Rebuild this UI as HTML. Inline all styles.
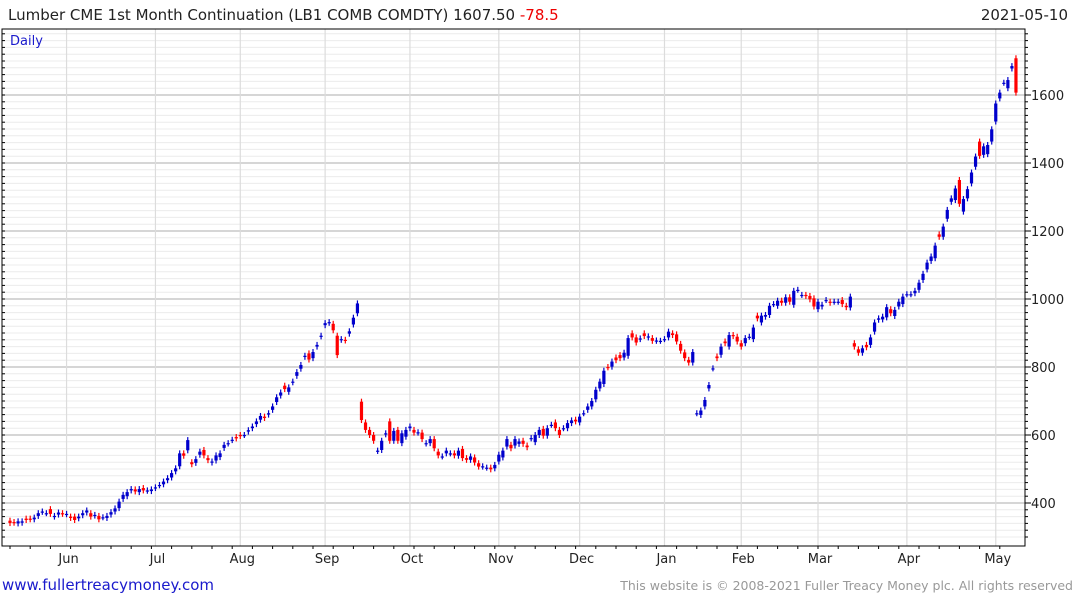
<!DOCTYPE html>
<html><head><meta charset="utf-8">
<style>
body{margin:0;background:#fff;width:1075px;height:600px;overflow:hidden;font-family:"Liberation Sans","DejaVu Sans",sans-serif;}
svg text{font-family:"DejaVu Sans","Liberation Sans",sans-serif;}
</style></head>
<body>
<svg id="chart" width="1075" height="600">
<text x="8" y="20" font-size="15" fill="#222">Lumber CME 1st Month Continuation (LB1 COMB COMDTY) 1607.50 <tspan fill="#e00">-78.5</tspan></text>
<text x="1068" y="20" font-size="15" fill="#222" text-anchor="end">2021-05-10</text>
<g id="grid"></g>
<g id="candles"></g>
<g id="axes"></g>
<text x="10" y="45" font-size="13" fill="#1a1acc">Daily</text>
<text x="2" y="590" font-size="15" fill="#1a1acc">www.fullertreacymoney.com</text>
<text x="1073" y="590" font-size="12.5" fill="#999" text-anchor="end">This website is © 2008-2021 Fuller Treacy Money plc. All rights reserved</text>
</svg>
<script>
const opens=[348,344,340,342,354,354,352,362,374,370,382,360,366,370,367,360,360,355,364,372,370,363,362,358,356,366,375,385,412,420,437,440,432,444,436,435,444,452,455,467,475,493,508,546,555,520,518,542,556,532,519,525,535,562,575,585,594,600,600,610,620,632,645,654,660,674,697,716,745,727,755,774,795,830,840,826,860,890,923,930,927,892,880,880,898,925,958,
698,637,615,600,553,556,602,640,583,615,576,595,620,615,607,607,575,576,588,551,537,546,546,546,539,559,532,527,534,517,507,504,504,502,522,534,566,571,569,574,583,569,590,579,600,618,598,630,637,615,620,620,635,645,637,664,674,684,705,737,750,800,801,828,835,828,833,899,887,882,899,887,885,877,877,882,887,899,896,868,843,821,813,664,659,684,737,796,
831,836,875,860,894,889,870,870,889,882,951,931,948,953,985,980,995,989,1005,983,1027,1012,1012,1009,1002,970,978,997,992,992,992,997,980,975,870,852,842,865,865,904,939,940,946,970,950,978,985,1014,1014,1017,1027,1056,1087,1112,1120,1190,1183,1236,1286,1291,1350,1257,1296,1340,1389,1463,1424,1426,1463,1522,1590,1636,1620,1678,1708];
const closes=[341,342,346,346,350,352,357,370,375,370,368,362,372,368,368,356,350,360,370,378,360,365,352,358,362,373,384,404,424,432,441,434,441,437,437,440,446,453,463,473,488,502,546,539,585,514,529,551,540,526,522,540,546,571,576,586,590,597,600,614,625,640,656,650,664,684,711,725,735,740,757,785,806,833,822,844,865,892,929,932,908,835,882,878,905,945,987,
644,615,600,583,554,583,605,583,612,583,605,615,625,607,608,588,576,588,561,540,537,554,546,540,554,532,527,537,519,507,508,504,499,512,542,554,588,561,588,581,574,564,591,600,615,598,620,630,620,600,620,635,643,640,654,664,684,700,733,757,789,799,816,820,826,842,885,887,872,884,891,890,877,878,877,882,904,894,875,848,826,813,844,664,672,703,747,796,
826,860,870,894,891,875,860,885,889,916,943,951,953,980,985,995,989,1005,992,1024,1027,1012,1009,999,978,992,983,997,989,992,992,985,976,1007,860,842,855,858,887,931,943,948,976,958,968,992,1007,1014,1014,1024,1048,1074,1107,1125,1157,1183,1213,1262,1296,1325,1280,1294,1323,1372,1419,1421,1449,1453,1499,1575,1607,1636,1644,1685,1607];
const yTicks=[400,600,800,1000,1200,1400,1600];
const months=["Jun","Jul","Aug","Sep","Oct","Nov","Dec","Jan","Feb","Mar","Apr","May"];
const monthStartIdx=[14,36,57,78,99,121,141,162,181,200,222,244];

const NS="http://www.w3.org/2000/svg";
const L=2,R=1025,T=29,B=546;
const xScale=i=>10+i*4.04;
const yScale=v=>95+(1600-v)*0.34;
function mk(tag,attrs,parent){const e=document.createElementNS(NS,tag);for(const k in attrs)e.setAttribute(k,attrs[k]);parent.appendChild(e);return e;}
const grid=document.getElementById('grid'),cg=document.getElementById('candles'),ax=document.getElementById('axes');
for(let v=300;v<=1780;v+=20){const y=yScale(v);if(y<T||y>B)continue;
 const major=yTicks.includes(v);
 const l=mk('line',{x1:L,x2:R,y1:y,y2:y,stroke:major?'#bdbdbd':'#ececec','stroke-width':major?1.3:1},grid);
 
 
 const t=mk('line',{x1:R,x2:R+(major?6:3),y1:y,y2:y,stroke:'#000'},ax);
 
 
 const t2=mk('line',{x1:L,x2:L+3,y1:y,y2:y,stroke:'#000'},ax);
 
 
}
yTicks.forEach(v=>{const y=yScale(v);
 const t=mk('text',{x:R+6,y:y+5,'font-size':13,fill:'#222'},ax);t.textContent=v;
 
 
});
months.forEach((m,k)=>{const x=xScale(monthStartIdx[k]);
 const g=mk('line',{x1:x,x2:x,y1:T,y2:B,stroke:'#dcdcdc','stroke-width':1.2},grid);
 
 
 const t=mk('text',{x:x+2,y:563,'font-size':13,fill:'#222','text-anchor':'middle'},ax);t.textContent=m;
 
 
});
for(let i=0;i<closes.length;i+=5){const x=xScale(i);
 const t=mk('line',{x1:x,x2:x,y1:B,y2:B+3,stroke:'#000'},ax);
 
 
}
const fr=mk('rect',{x:L,y:T,width:R-L,height:B-T,fill:'none',stroke:'#000','stroke-width':1},ax);


for(let i=0;i<closes.length;i++){
 const o=opens[i],c=closes[i],x=xScale(i);
 const col=c>=o?'#0000cc':'#ff0000';
 const top=yScale(Math.max(o,c)),bot=yScale(Math.min(o,c));
 const w=mk('line',{x1:x,x2:x,y1:top-3,y2:bot+3,stroke:col,'stroke-width':1.2},cg);
 
 
 const b=mk('rect',{x:x-1.6,y:top,width:3.2,height:Math.max(1.2,bot-top),fill:col},cg);
 
 
}
</script>
</body></html>
